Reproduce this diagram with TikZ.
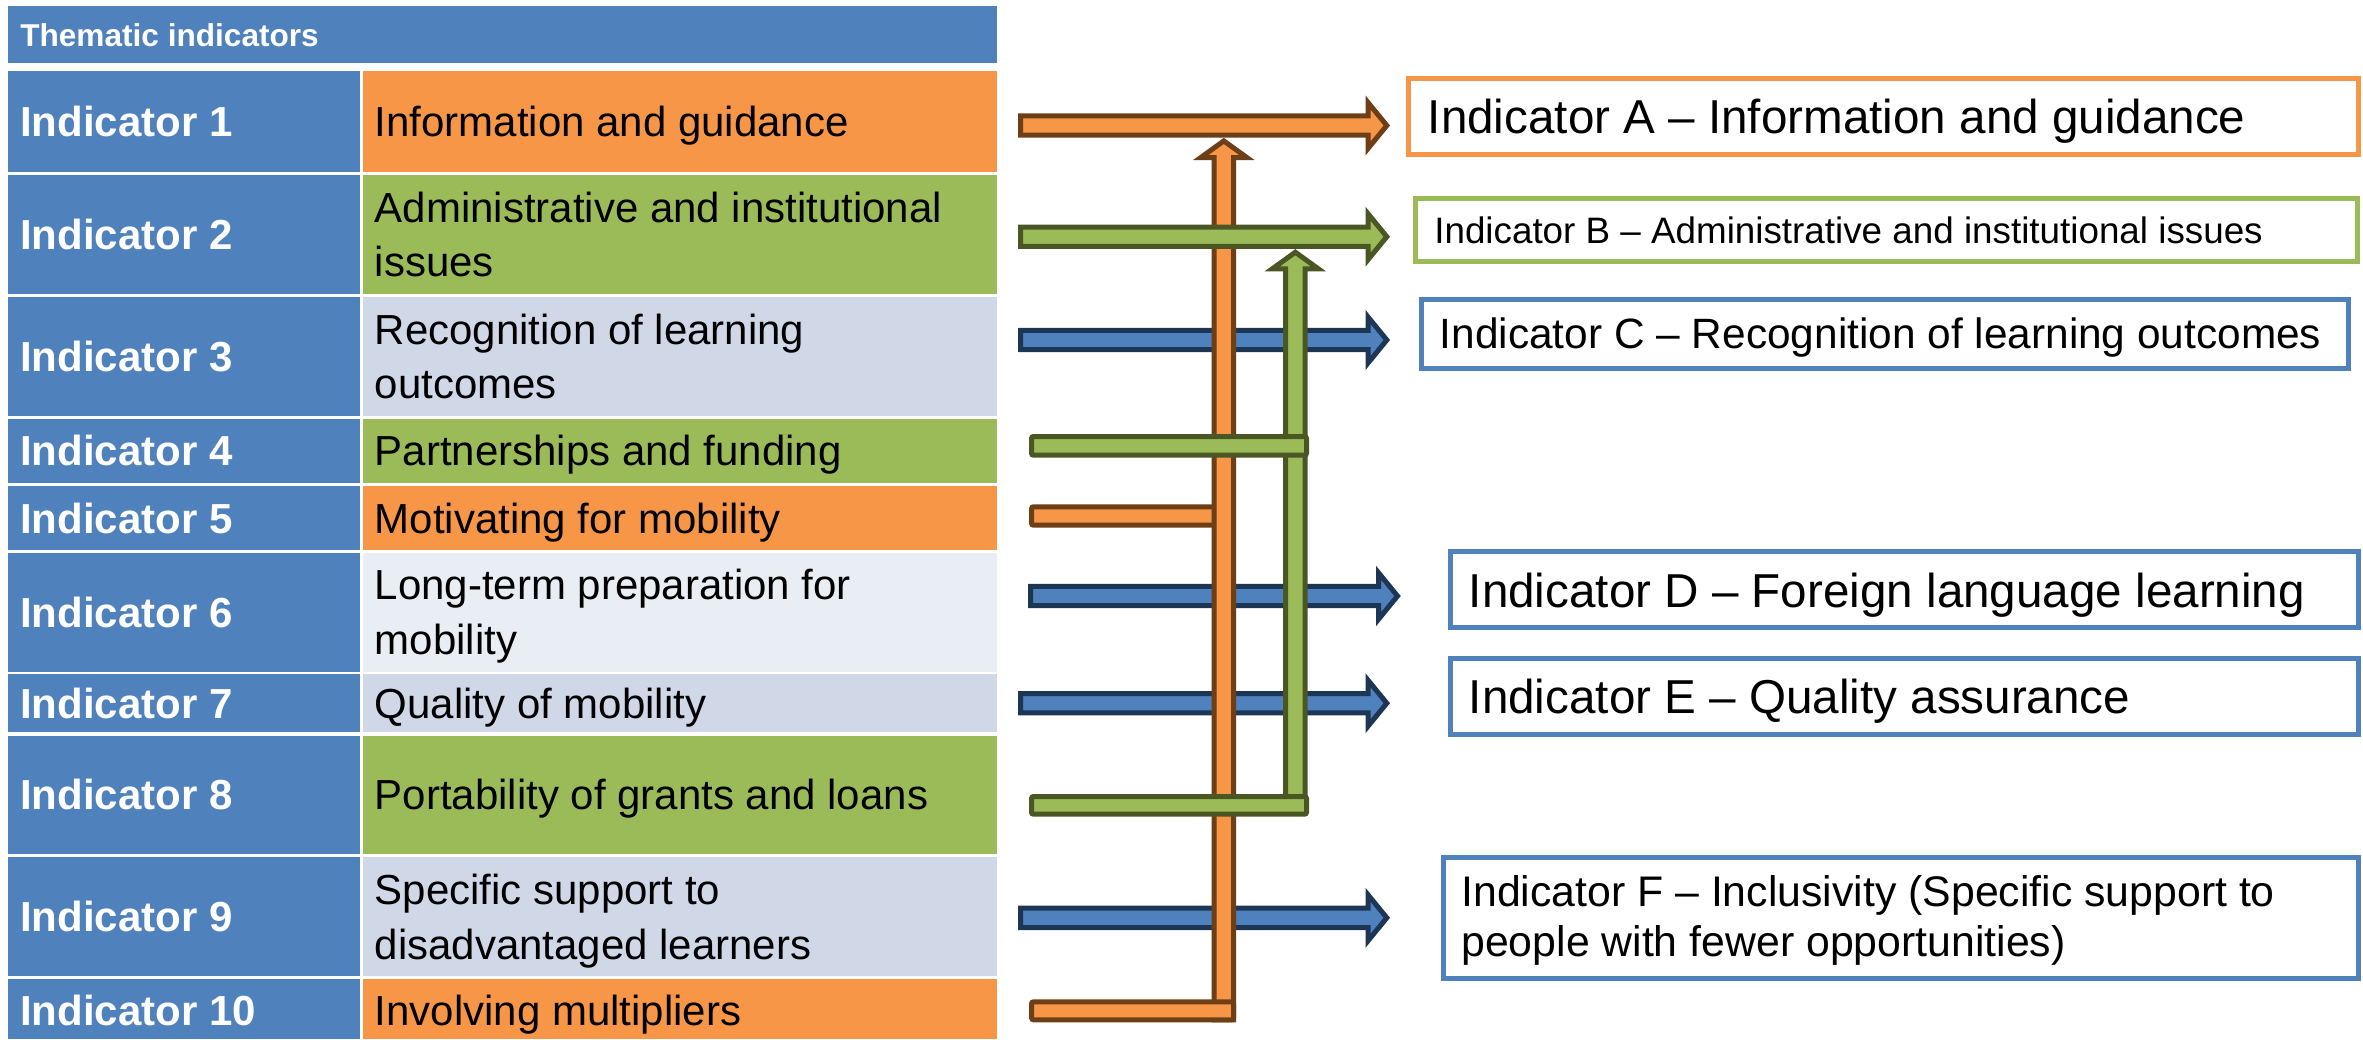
\documentclass[tikz,border=0pt]{standalone}
\usepackage{fontspec}
\setmainfont{Liberation Sans}
\definecolor{cBl}{HTML}{4F81BD}
\definecolor{cOr}{HTML}{F79646}
\definecolor{cGr}{HTML}{9BBB59}
\definecolor{cGy}{HTML}{D0D8E8}
\definecolor{cGl}{HTML}{E9EDF4}
\definecolor{oOr}{HTML}{6E3F16}
\definecolor{oGr}{HTML}{4A5724}
\definecolor{oBl}{HTML}{1E3656}
\tikzset{
  lab/.style={anchor=base west,inner sep=0pt,text=white,font=\fontsize{10.5}{12}\selectfont\bfseries},
  cell/.style={anchor=base west,inner sep=0pt,text=black,font=\fontsize{10.5}{12}\selectfont},
  big/.style={anchor=base west,inner sep=0pt,text=black,font=\fontsize{11.9}{14}\selectfont},
  box/.style={line width=1.25pt,fill=white},
  blk/.style={line width=1.25pt,line join=miter},
  bar/.style={line width=1.25pt,rounded corners=0.5pt}
}
\newcommand{\harr}[5]{% left, tip, y, fill, draw
  \draw[blk,fill=#4,draw=#5] ({#1+2.5},{#3-9.7}) -- ({#2-22},{#3-9.7}) -- ({#2-22},{#3-23}) -- ({#2-3.2},{#3}) -- ({#2-22},{#3+23}) -- ({#2-22},{#3+9.7}) -- ({#1+2.5},{#3+9.7}) -- cycle;}
\newcommand{\varr}[5]{% xc, tip, bottom, fill, draw
  \draw[blk,fill=#4,draw=#5] ({#1-9.7},{#3}) -- ({#1-9.7},{#2+19.8}) -- ({#1-23},{#2+19.8}) -- ({#1},{#2+3.2}) -- ({#1+23},{#2+19.8}) -- ({#1+9.7},{#2+19.8}) -- ({#1+9.7},{#3}) -- cycle;}
\begin{document}
\begin{tikzpicture}[x=0.25pt,y=-0.25pt]
\useasboundingbox (0,0) rectangle (2363,1039);
% table
\fill[cBl] (8.3,5.7) rectangle (997.3,62.7);
\node[lab,font=\fontsize{7.9}{9}\selectfont\bfseries] (hdr) at (19.5,46.7) {Thematic indicators};
\foreach \t/\b/\c in {71/172.3/cOr, 174.7/294/cGr, 296.7/416/cGy, 419/482.7/cGr, 486/550/cOr, 552.7/671.7/cGl, 674.3/732.3/cGy, 735.7/854/cGr, 857.3/976/cGy, 979/1039/cOr}{
  \fill[cBl] (8.3,\t) rectangle (360,\b);
  \fill[\c] (362.7,\t) rectangle (997.3,\b);
}
\node[lab] (l1) at (19.5,136.7) {Indicator 1};
\node[lab] (l2) at (19.5,249.3) {Indicator 2};
\node[lab] (l3) at (19.5,371.3) {Indicator 3};
\node[lab] (l4) at (19.5,465.8) {Indicator 4};
\node[lab] (l5) at (19.5,533) {Indicator 5};
\node[lab] (l6) at (19.5,627.2) {Indicator 6};
\node[lab] (l7) at (19.5,718.3) {Indicator 7};
\node[lab] (l8) at (19.5,809.8) {Indicator 8};
\node[lab] (l9) at (19.5,931.7) {Indicator 9};
\node[lab] (l10) at (19.5,1025) {Indicator 10};
\node[cell] (r1) at (374,136.7) {Information and guidance};
\node[cell] (r2a) at (374,222) {Administrative and institutional};
\node[cell] (r2b) at (374,276.6) {issues};
\node[cell] (r3a) at (374,344) {Recognition of learning};
\node[cell] (r3b) at (374,398.6) {outcomes};
\node[cell] (r4) at (374,465.8) {Partnerships and funding};
\node[cell] (r5) at (374,533) {Motivating for mobility};
\node[cell] (r6a) at (374,599.9) {Long-term preparation for};
\node[cell] (r6b) at (374,654.5) {mobility};
\node[cell] (r7) at (374,718.3) {Quality of mobility};
\node[cell] (r8) at (374,809.8) {Portability of grants and loans};
\node[cell] (r9a) at (374,904.4) {Specific support to};
\node[cell] (r9b) at (374,959) {disadvantaged learners};
\node[cell] (r10) at (374,1025) {Involving multipliers};
% right boxes
\draw[box,draw=cOr] (1408.5,78.2) rectangle (2358.5,154.2);
\node[big] (ta) at (1427,133.3) {Indicator A – Information and guidance};
\draw[box,draw=cGr] (1415.5,198.5) rectangle (2357.5,261.5);
\node[big,font=\fontsize{9.2}{11}\selectfont] (tb) at (1433.5,243.3) {Indicator B – Administrative and institutional issues};
\draw[box,draw=cBl] (1421.5,299.2) rectangle (2348,368.2);
\node[big,font=\fontsize{10.6}{12}\selectfont] (tc) at (1439,348) {Indicator C – Recognition of learning outcomes};
\draw[box,draw=cBl] (1450.2,551.8) rectangle (2358.5,627.5);
\node[big] (td) at (1468,607) {Indicator D – Foreign language learning};
\draw[box,draw=cBl] (1450.2,658.5) rectangle (2358.5,734.8);
\node[big] (te) at (1468,713.5) {Indicator E – Quality assurance};
\draw[box,draw=cBl] (1443.3,857.5) rectangle (2358.5,978.5);
\node[cell,font=\fontsize{10.7}{12}\selectfont] (tf1) at (1460.5,906.7) {Indicator F – Inclusivity (Specific support to};
\node[cell,font=\fontsize{10.7}{12}\selectfont] (tf2) at (1460.5,956.7) {people with fewer opportunities)};
% blue arrows (bottom layer)
\harr{1018}{1390}{340}{cBl}{oBl}
\harr{1028}{1400.7}{596}{cBl}{oBl}
\harr{1018}{1390}{703.2}{cBl}{oBl}
\harr{1018}{1390}{917.8}{cBl}{oBl}
% orange bar row 5 (under vertical)
\draw[bar,fill=cOr,draw=oOr] (1031.5,506.8) rectangle (1222,525.2);
% verticals
\varr{1223.8}{137.7}{1019.8}{cOr}{oOr}
\varr{1295.3}{249}{805}{cGr}{oGr}
% green horizontal arrow and bars
\harr{1018}{1390}{236.7}{cGr}{oGr}
\draw[bar,fill=cGr,draw=oGr] (1031.5,436.5) rectangle (1306.5,455.2);
\draw[bar,fill=cGr,draw=oGr] (1031.5,796.5) rectangle (1306.5,814.2);
% orange top arrow and bottom bar
\harr{1018}{1390}{125.5}{cOr}{oOr}
\draw[bar,fill=cOr,draw=oOr] (1031.5,1001.8) rectangle (1233.5,1019.8);
\end{tikzpicture}
\end{document}
